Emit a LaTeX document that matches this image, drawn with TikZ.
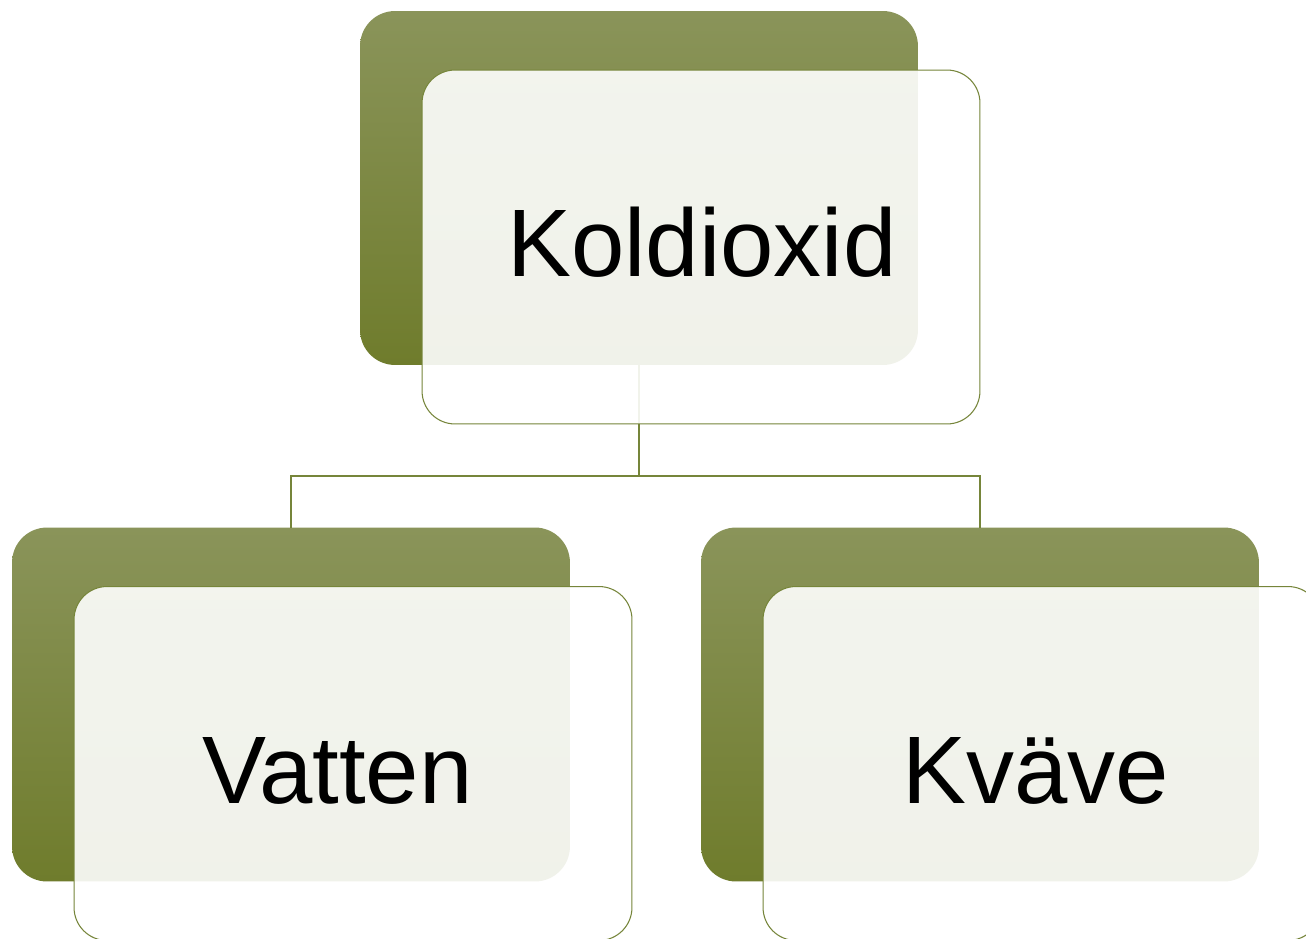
\documentclass[tikz,border=0pt]{standalone}
\usepackage{fontspec}
\setmainfont{Liberation Sans}
\usetikzlibrary{positioning}
\definecolor{olivetop}{HTML}{8A945A}
\definecolor{olivebot}{HTML}{6F7C2C}
\definecolor{oliveline}{HTML}{76853A}
\tikzset{
  backbox/.style={rounded corners=0.7cm, minimum width=11.16cm, minimum height=7.08cm,
    inner sep=0pt, outer sep=0pt, top color=olivetop, bottom color=olivebot},
  frontbox/.style={rounded corners=0.66cm, minimum width=11.16cm, minimum height=7.08cm,
    inner sep=0pt, outer sep=0pt, draw=oliveline, line width=0.6pt, fill=white, fill opacity=0.9},
  link/.style={draw=oliveline, line width=0.7pt},
  boxtext/.style={anchor=base, inner sep=0pt, font=\fontsize{54.6}{60}\selectfont}
}
\begin{document}
\begin{tikzpicture}[x=0.02cm,y=-0.02cm]
\useasboundingbox (0,0) rectangle (1306,939);
\clip (0,0) rectangle (1306,939);
\fill[white] (0,0) rectangle (1306,939);
% back boxes
\node[backbox] (kolback) at (639,188) {};
\node[backbox] (vatback) at (291,704.5) {};
\node[backbox] (kvaback) at (980,704.5) {};
% connectors
\draw[link] (kolback.south) -- (639,476) coordinate (split);
\draw[link] (split) -| (vatback.north);
\draw[link] (split) -| (kvaback.north);
% front boxes
\node[frontbox] (kolfront) at (701,247) {};
\node[frontbox] (vatfront) at (353,763.5) {};
\node[frontbox] (kvafront) at (1042,763.5) {};
% texts
\node[boxtext] (koltext) at (702,277) {Koldioxid};
\node[boxtext] (vattext) at (337.5,803) {Vatten};
\node[boxtext] (kvatext) at (1036,803) {Kväve};
\end{tikzpicture}
\end{document}
